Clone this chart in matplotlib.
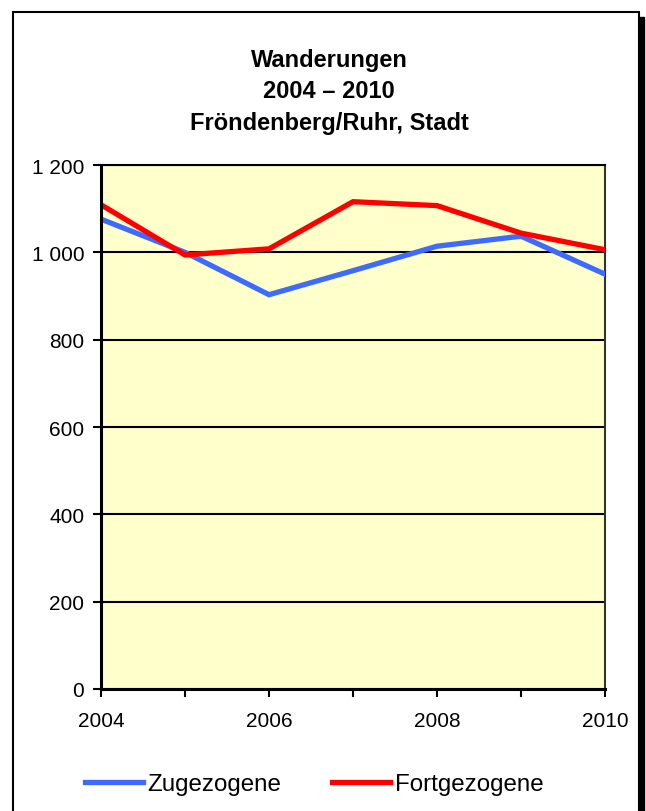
import matplotlib
matplotlib.use("Agg")
import matplotlib.pyplot as plt
from matplotlib.patches import Rectangle
from matplotlib.ticker import FuncFormatter

plt.rcParams['font.family'] = ['Liberation Sans', 'DejaVu Sans']

years = [2004, 2005, 2006, 2007, 2008, 2009, 2010]
zugezogene = [1076, 1000, 903, 958, 1014, 1037, 950]
fortgezogene = [1109, 994, 1008, 1116, 1107, 1044, 1006]
title_lines = ["Wanderungen", "2004 \u2013 2010", "Fr\u00f6ndenberg/Ruhr, Stadt"]
series_names = ["Zugezogene", "Fortgezogene"]
y_ticks = [0, 200, 400, 600, 800, 1000, 1200]
x_label_years = [2004, 2006, 2008, 2010]

W, H = 646, 812
fig = plt.figure(figsize=(W / 100, H / 100), dpi=100)

def fx(px):
    return px / W

def fy(py):
    return 1 - py / H

# outer frame with shadow
shadow = Rectangle((fx(18), fy(830)), fx(626) - fx(0), fy(0) - fy(812), transform=fig.transFigure,
                   facecolor='black', edgecolor='black', zorder=-2)
fig.patches.append(shadow)
frame = Rectangle((fx(13), fy(825)), fx(626) - fx(0), fy(0) - fy(812), transform=fig.transFigure,
                  facecolor='white', edgecolor='black', linewidth=1.5, zorder=-1)
fig.patches.append(frame)

ax = fig.add_axes([fx(101), fy(690), fx(605) - fx(101), fy(166) - fy(690)])
ax.set_facecolor('#FFFFCC')

ax.plot(years, zugezogene, color='#3D6BFF', linewidth=3.8, label=series_names[0],
        solid_joinstyle='miter', zorder=3)
ax.plot(years, fortgezogene, color='#FF0000', linewidth=3.8, label=series_names[1],
        solid_joinstyle='miter', zorder=4)

ax.set_xlim(2004, 2010)
ax.set_ylim(0, 1200)
ax.set_yticks(y_ticks)
ax.yaxis.set_major_formatter(FuncFormatter(lambda v, p: f"{int(v):,}".replace(",", " ")))
ax.set_xticks(years)
ax.set_xticklabels([str(y) if y in x_label_years else "" for y in years])

ax.grid(axis='y', color='black', linewidth=1.5, zorder=1)
ax.set_axisbelow(True)
for s in ['left', 'bottom']:
    ax.spines[s].set_linewidth(2.2)
    ax.spines[s].set_color('black')
    ax.spines[s].set_zorder(5)
ax.spines['top'].set_linewidth(1.5)
ax.spines['right'].set_linewidth(1.5)
ax.spines['right'].set_color('#333333')

ax.tick_params(axis='y', direction='out', length=6, width=1.5, labelsize=15, pad=6)
ax.tick_params(axis='x', direction='out', length=6, width=1.5, labelsize=15, pad=10)

baselines = [67, 98, 130]
for t, b in zip(title_lines, baselines):
    fig.text(fx(329), fy(b), t, ha='center', va='baseline', fontsize=17, fontweight='bold')

fig.legend(loc='center', bbox_to_anchor=(fx(314), fy(785)), ncol=2, frameon=False,
           fontsize=17.4, handlelength=2.4, handletextpad=0.2, columnspacing=2.1)

fig.savefig("out.png", dpi=100)
